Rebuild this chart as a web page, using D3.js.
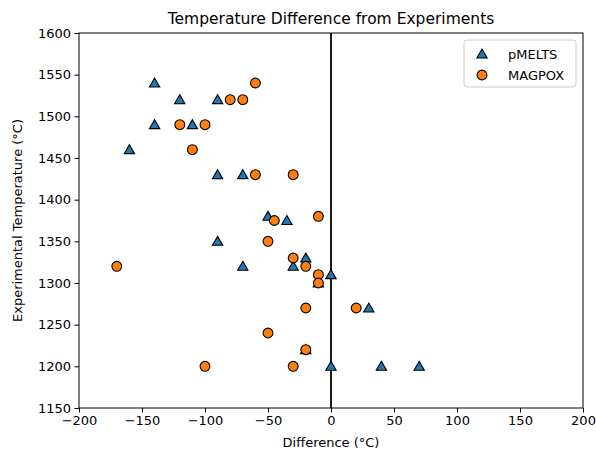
<!DOCTYPE html>
<html>
<head>
<meta charset="utf-8">
<script src="https://cdn.jsdelivr.net/npm/d3@7"></script>
<style>
  body { margin: 0; background: #fff; }
  svg { display: block; font-family: "DejaVu Sans", sans-serif; }
</style>
</head>
<body>
<svg id="chart" width="596" height="452"></svg>
<script>
const title = "Temperature Difference from Experiments";
const xLabel = "Difference (°C)";
const yLabel = "Experimental Temperature (°C)";
const xTicks = [-200, -150, -100, -50, 0, 50, 100, 150, 200];
const yTicks = [1150, 1200, 1250, 1300, 1350, 1400, 1450, 1500, 1550, 1600];
const seriesNames = ["pMELTS", "MAGPOX"];

const pmeltsDiff = [-140, -120, -90, -140, -110, -160, -90, -70, -50, -35, -90, -70, -30, -20, 0, -10, 30, -20, 0, 40, 70];
const pmeltsTemp = [1540, 1520, 1520, 1490, 1490, 1460, 1430, 1430, 1380, 1375, 1350, 1320, 1320, 1330, 1310, 1300, 1270, 1220, 1200, 1200, 1200];

const magpoxDiff = [-60, -80, -70, -120, -100, -110, -60, -30, -45, -10, -50, -30, -20, -170, -10, -10, -20, 20, -50, -20, -100, -30];
const magpoxTemp = [1540, 1520, 1520, 1490, 1490, 1460, 1430, 1430, 1375, 1380, 1350, 1330, 1320, 1320, 1310, 1300, 1270, 1270, 1240, 1220, 1200, 1200];

const colors = ["#1f77b4", "#ff7f0e"];

const svg = d3.select("#chart");
const m = { left: 79, right: 583, top: 33, bottom: 408 };
const x = d3.scaleLinear().domain([-200, 200]).range([m.left, m.right]);
const y = d3.scaleLinear().domain([1150, 1600]).range([m.bottom, m.top]);

// vertical zero line
svg.append("line")
  .attr("x1", x(0)).attr("x2", x(0))
  .attr("y1", y(1600)).attr("y2", y(1150))
  .attr("stroke", "#000").attr("stroke-width", 1.8);

const triSym = d3.symbol().type(d3.symbolTriangle).size(46);
const circSym = d3.symbol().type(d3.symbolCircle).size(76);

const pData = pmeltsDiff.map((d, i) => ({ x: d, y: pmeltsTemp[i] }));
const mData = magpoxDiff.map((d, i) => ({ x: d, y: magpoxTemp[i] }));

svg.append("g").selectAll("path").data(pData).join("path")
  .attr("d", triSym)
  .attr("transform", d => `translate(${x(d.x)},${y(d.y) + 1})`)
  .attr("fill", colors[0]).attr("stroke", "#000").attr("stroke-width", 1.1);

svg.append("g").selectAll("path").data(mData).join("path")
  .attr("d", circSym)
  .attr("transform", d => `translate(${x(d.x)},${y(d.y)})`)
  .attr("fill", colors[1]).attr("stroke", "#000").attr("stroke-width", 1.1);

// axes
const xAxis = svg.append("g").attr("transform", `translate(0,${m.bottom})`)
  .call(d3.axisBottom(x).tickValues(xTicks).tickSize(4.5).tickPadding(3.5).tickFormat(d => d < 0 ? "\u2212" + Math.abs(d) : String(d)));
const yAxis = svg.append("g").attr("transform", `translate(${m.left},0)`)
  .call(d3.axisLeft(y).tickValues(yTicks).tickSize(4.5).tickPadding(3.5).tickFormat(d => String(d)));
[xAxis, yAxis].forEach(a => {
  a.select(".domain").remove();
  a.selectAll("line").attr("stroke", "#000").attr("stroke-width", 1);
  a.selectAll("text").attr("font-size", 13).attr("fill", "#000").attr("font-family", "DejaVu Sans");
});

// frame
svg.append("rect")
  .attr("x", m.left).attr("y", m.top)
  .attr("width", m.right - m.left).attr("height", m.bottom - m.top)
  .attr("fill", "none").attr("stroke", "#000").attr("stroke-width", 1);

// title & labels
svg.append("text").attr("x", (m.left + m.right) / 2).attr("y", 24)
  .attr("text-anchor", "middle").attr("font-size", 15.5).text(title);
svg.append("text").attr("x", (m.left + m.right) / 2).attr("y", 447)
  .attr("text-anchor", "middle").attr("font-size", 13).text(xLabel);
svg.append("text").attr("transform", `translate(22,${(m.top + m.bottom) / 2}) rotate(-90)`)
  .attr("text-anchor", "middle").attr("font-size", 13).text(yLabel);

// legend
const lg = svg.append("g");
lg.append("rect").attr("x", 464).attr("y", 40).attr("width", 112).attr("height", 47)
  .attr("rx", 3).attr("fill", "#fff").attr("fill-opacity", 0.8)
  .attr("stroke", "#ccc").attr("stroke-width", 1);
const rowsY = [54, 75];
seriesNames.forEach((name, i) => {
  lg.append("path")
    .attr("d", i === 0 ? triSym : circSym)
    .attr("transform", `translate(482,${rowsY[i] + (i === 0 ? 1 : 0)})`)
    .attr("fill", colors[i]).attr("stroke", "#000").attr("stroke-width", 1.1);
  lg.append("text").attr("x", 508).attr("y", rowsY[i] + 4.5)
    .attr("font-size", 13).text(name);
});
</script>
</body>
</html>
